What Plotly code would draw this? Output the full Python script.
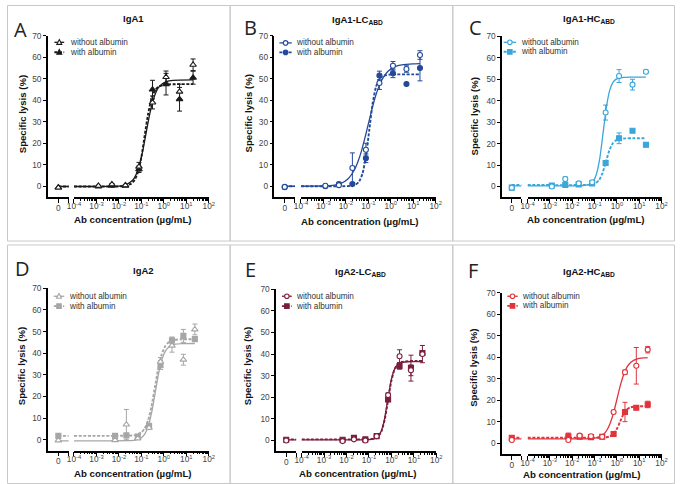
import plotly.graph_objects as go

W, H = 681, 484

# ---------------- data ----------------
LETTERS = ["A", "B", "C", "D", "E", "F"]
TITLES = ["IgA1", "IgA1-LC<sub>ABD</sub>", "IgA1-HC<sub>ABD</sub>",
          "IgA2", "IgA2-LC<sub>ABD</sub>", "IgA2-HC<sub>ABD</sub>"]
SERIES_NAMES = ["without albumin", "with albumin"]
X_TICK_VALS = [1e-4, 1e-3, 1e-2, 1e-1, 1, 10, 100]
X_TICK_TEXT = ["10<sup>-4</sup>", "10<sup>-3</sup>", "10<sup>-2</sup>", "10<sup>-1</sup>",
               "10<sup>0</sup>", "10<sup>1</sup>", "10<sup>2</sup>"]
Y_TICK_VALS = [0, 10, 20, 30, 40, 50, 60, 70]
ZERO_TICK_VALS = [0, 1]
ZERO_TICK_TEXT = ["0", " "]
ZERO_SEG_X = [0, 1]

CONC_1 = [0.00122, 0.00488, 0.0195, 0.078, 0.3125, 1.25, 5, 20]
CONC_2 = [0.0067, 0.0215, 0.069, 0.22, 0.71, 2.3, 7.4, 24]

# Panel A  IgA1
A_WO_ZERO, A_W_ZERO = -0.5, -0.5
A_WO = [0.3, 1.0, 0.6, 9.2, 39.0, 50.8, 44.0, 56.5]
A_WO_ERR = [0.3, 0.4, 0.3, 2.0, 3.0, 2.8, 3.5, 2.7]
A_W = [0.0, 0.3, 0.3, 8.0, 45.0, 47.5, 40.5, 50.5]
A_W_ERR = [0.2, 0.3, 0.3, 1.5, 4.3, 5.0, 5.5, 3.0]
A_WO_FIT_X = [1e-4, 0.0102, 0.0204, 0.0407, 0.0575, 0.0813, 0.115, 0.162, 0.229, 0.324, 0.457, 0.646, 1.29, 2.57, 20]
A_WO_FIT_Y = [0.0, 0.2, 0.8, 2.9, 5.5, 9.9, 16.5, 24.8, 33.0, 39.6, 44.0, 46.6, 48.7, 49.3, 49.5]
A_W_FIT_X = [1e-4, 0.0089, 0.0178, 0.0355, 0.0501, 0.0708, 0.1, 0.141, 0.2, 0.282, 0.398, 0.562, 1.12, 20]
A_W_FIT_Y = [0.0, 0.03, 0.2, 1.3, 3.0, 6.7, 13.7, 23.8, 33.8, 40.8, 44.5, 46.2, 47.3, 47.5]
A_WO_BOTTOM, A_W_BOTTOM = 0.0, 0.0

# Panel B  IgA1-LC_ABD
B_WO_ZERO, B_W_ZERO = -0.3, -0.5
B_WO = [0.2, 0.5, 8.5, 17.0, 48.0, 56.0, 54.5, 61.0]
B_WO_ERR = [0.2, 0.3, 7.0, 3.0, 3.0, 2.0, 1.5, 2.0]
B_W = [0.0, 1.0, 1.0, 13.0, 51.5, 52.5, 47.5, 55.0]
B_W_ERR = [0.2, 0.3, 0.5, 2.0, 2.0, 2.0, 0.5, 6.0]
B_WO_FIT_X = [1e-4, 0.00031, 0.00098, 0.0031, 0.0062, 0.0123, 0.0245, 0.0347, 0.049, 0.0692, 0.0977,
              0.138, 0.195, 0.275, 0.389, 0.776, 1.55, 3.09, 9.77, 20]
B_WO_FIT_Y = [0.0, 0.03, 0.11, 0.57, 1.4, 3.4, 7.8, 11.5, 16.2, 22.1, 28.5,
              34.9, 40.8, 45.5, 49.2, 53.6, 55.6, 56.4, 56.9, 57.0]
B_W_FIT_X = [1e-4, 0.0069, 0.0138, 0.0275, 0.0389, 0.055, 0.0776, 0.11, 0.155, 0.219, 0.309, 0.437, 0.871, 1.74, 20]
B_W_FIT_Y = [0.0, 0.02, 0.1, 0.8, 2.2, 5.8, 13.6, 26.0, 38.4, 46.2, 49.8, 51.2, 51.9, 52.0, 52.0]
B_WO_BOTTOM, B_W_BOTTOM = 0.0, 0.0

# Panel C  IgA1-HC_ABD
C_WO_ZERO, C_W_ZERO = -0.5, -0.5
C_WO = [0.0, 3.5, 1.5, 2.0, 34.5, 51.5, 47.5, 53.5]
C_WO_ERR = [0.3, 1.0, 0.5, 0.5, 3.5, 3.0, 2.5, 0.7]
C_W = [0.5, 0.7, 1.0, 1.5, 11.0, 22.5, 26.0, 19.5]
C_W_ERR = [0.2, 0.3, 0.3, 0.3, 1.0, 2.5, 0.5, 1.0]
C_WO_FIT_X = [1e-4, 0.0155, 0.0309, 0.0617, 0.0871, 0.123, 0.174, 0.245, 0.347, 0.49, 0.692, 0.977, 1.95, 3.89, 20]
C_WO_FIT_Y = [0.3, 0.3, 0.4, 1.1, 2.5, 6.0, 13.6, 25.7, 37.7, 45.3, 48.8, 50.2, 50.9, 51.0, 51.0]
C_W_FIT_X = [1e-4, 0.0204, 0.0407, 0.0813, 0.115, 0.162, 0.229, 0.324, 0.457, 0.646, 0.912, 1.29, 2.57, 5.13, 20]
C_W_FIT_Y = [0.7, 0.7, 0.74, 1.05, 1.64, 3.1, 6.4, 11.6, 16.8, 20.1, 21.6, 22.15, 22.46, 22.5, 22.5]
C_WO_BOTTOM, C_W_BOTTOM = 0.3, 0.7

# Panel D  IgA2
D_WO_ZERO, D_W_ZERO = -0.3, 1.8
D_WO = [-0.2, 7.0, 0.6, 5.5, 36.0, 43.5, 37.0, 51.0]
D_WO_ERR = [0.3, 7.0, 0.5, 0.8, 2.0, 3.0, 2.5, 2.5]
D_W = [1.8, 2.0, 1.5, 6.5, 34.5, 46.0, 48.0, 46.5]
D_W_ERR = [0.3, 0.3, 0.5, 1.0, 2.0, 1.5, 3.0, 0.5]
D_WO_FIT_X = [1e-4, 0.0263, 0.0525, 0.105, 0.148, 0.209, 0.295, 0.417, 0.589, 0.832, 1.175, 1.66, 3.31, 6.61, 24]
D_WO_FIT_Y = [-0.5, -0.44, -0.19, 1.08, 2.97, 6.7, 13.2, 22.0, 30.8, 37.3, 41.0, 42.9, 44.2, 44.44, 44.5]
D_W_FIT_X = [1e-4, 0.0251, 0.0501, 0.1, 0.141, 0.2, 0.282, 0.398, 0.562, 0.794, 1.12, 1.585, 3.16, 6.31, 24]
D_W_FIT_Y = [1.8, 1.86, 2.11, 3.36, 5.24, 8.95, 15.4, 24.15, 32.9, 39.35, 43.06, 44.94, 46.19, 46.44, 46.5]
D_WO_BOTTOM, D_W_BOTTOM = -0.5, 1.8

# Panel E  IgA2-LC_ABD
E_WO_ZERO, E_W_ZERO = 0.0, 0.3
E_WO = [-0.3, 0.5, 0.0, 2.0, 21.0, 39.0, 32.5, 40.0]
E_WO_ERR = [0.3, 0.3, 0.3, 0.5, 1.0, 3.0, 2.5, 4.0]
E_W = [0.3, 1.2, 0.5, 2.0, 19.0, 34.5, 33.5, 40.5]
E_W_ERR = [0.2, 0.5, 0.2, 0.3, 1.0, 1.5, 6.0, 1.0]
E_WO_FIT_X = [1e-4, 0.0427, 0.0851, 0.17, 0.24, 0.339, 0.479, 0.676, 0.955, 1.35, 1.905, 2.69, 5.37, 10.7, 24]
E_WO_FIT_Y = [0.3, 0.3, 0.35, 0.73, 1.57, 3.88, 9.31, 18.4, 27.5, 32.9, 35.2, 36.1, 36.45, 36.5, 36.5]
E_W_FIT_X = [1e-4, 0.0447, 0.0891, 0.178, 0.251, 0.355, 0.501, 0.708, 1.0, 1.41, 2.0, 2.82, 5.62, 11.2, 24]
E_W_FIT_Y = [0.5, 0.5, 0.55, 0.94, 1.77, 4.09, 9.54, 18.65, 27.76, 33.2, 35.5, 36.36, 36.75, 36.8, 36.8]
E_WO_BOTTOM, E_W_BOTTOM = 0.3, 0.5

# Panel F  IgA2-HC_ABD
F_WO_ZERO, F_W_ZERO = 1.5, 2.5
F_WO = [1.5, 3.5, 3.2, 3.0, 14.5, 33.0, 36.0, 43.5]
F_WO_ERR = [0.4, 0.5, 0.4, 0.4, 0.8, 1.0, 8.5, 1.5]
F_W = [3.2, 3.0, 2.8, 3.0, 4.3, 14.5, 16.5, 18.0]
F_W_ERR = [1.5, 0.5, 0.3, 0.5, 0.5, 4.5, 0.8, 1.5]
F_WO_FIT_X = [1e-4, 0.065, 0.13, 0.259, 0.366, 0.516, 0.73, 1.03, 1.455, 2.06, 2.9, 4.1, 8.18, 16.3, 24]
F_WO_FIT_Y = [2.0, 2.15, 2.6, 4.23, 6.23, 9.6, 14.6, 20.9, 27.2, 32.2, 35.57, 37.57, 39.2, 39.65, 39.8]
F_W_FIT_X = [1e-4, 0.0863, 0.172, 0.344, 0.485, 0.686, 0.968, 1.37, 1.93, 2.73, 3.85, 5.44, 10.9, 21.7, 24]
F_W_FIT_Y = [2.5, 2.5, 2.53, 2.74, 3.13, 4.15, 6.35, 9.85, 13.35, 15.55, 16.57, 16.96, 17.17, 17.2, 17.2]
F_WO_BOTTOM, F_W_BOTTOM = 2.0, 2.5

# ---------------- styles / layout (pixels) ----------------
COLORS = ["#1a1a1a", "#234a9a", "#3aa6da", "#a6a6a6", "#7a1e3c", "#e2333b"]
SYMBOLS = [("triangle-up", "triangle-up"), ("circle", "circle"), ("circle", "square"),
           ("triangle-up", "square"), ("circle", "square"), ("circle", "square")]

GEOM = [
    dict(yax=41.7, zend=63.0, l0=68.3, l1=205.7, ytop=31.0, ybot=194.3),
    dict(yax=272.7, zend=293.5, l0=299.7, l1=437.0, ytop=31.0, ybot=194.0),
    dict(yax=504.7, zend=524.5, l0=530.7, l1=667.3, ytop=31.7, ybot=194.3),
    dict(yax=41.7, zend=63.0, l0=68.3, l1=205.7, ytop=286.3, ybot=450.2),
    dict(yax=274.3, zend=295.0, l0=300.3, l1=437.7, ytop=287.3, ybot=450.9),
    dict(yax=504.7, zend=524.5, l0=530.7, l1=667.3, ytop=290.7, ybot=453.6),
]
LEG = [
    dict(x0=48.3, x1=58.3, tx=62.0, y1=37.7, y2=47.7),
    dict(x0=277.7, x1=290.3, tx=292.5, y1=38.3, y2=47.9),
    dict(x0=506.3, x1=519.0, tx=522.3, y1=37.7, y2=47.3),
    dict(x0=47.7, x1=58.3, tx=61.0, y1=294.3, y2=304.3),
    dict(x0=280.3, x1=290.3, tx=292.5, y1=294.3, y2=304.3),
    dict(x0=510.0, x1=520.7, tx=523.3, y1=294.3, y2=304.0),
]
TITLE_POS = [(128.7, 13.5), (357, 15), (593, 14), (138.8, 268.7), (360, 269.3), (593, 269.7)]
LETTER_POS = [(13.7, 25), (247.8, 22.5), (478, 23), (16.3, 266), (248, 267), (475, 268.7)]
XTITLE_POS = [(128, 216.5), (359.5, 218.5), (590, 217), (128.7, 473), (357.8, 473), (586.3, 474)]
YTITLE_POS = [(15.7, 110), (246.3, 110), (476.7, 113), (15, 365.3), (245.3, 365.3), (475.7, 367)]
FRAMES = [(0.5, 0.5, 227.5, 238.5), (227.5, 0.5, 454.5, 238.5), (454.5, 0.5, 680.5, 238.5),
          (0.5, 242.5, 227.5, 483.5), (227.5, 242.5, 454.5, 483.5), (454.5, 242.5, 680.5, 483.5)]

MINOR_VALS = [m * 10.0 ** k for k in range(-4, 2) for m in range(2, 10)]
FONT = "Liberation Sans, Arial, sans-serif"
TICK_FONT = dict(family=FONT, size=8.3, color="#444")

PANELS = [
    (A_WO_ZERO, A_WO, A_WO_ERR, A_WO_FIT_X, A_WO_FIT_Y, A_WO_BOTTOM, A_W_ZERO, A_W, A_W_ERR, A_W_FIT_X, A_W_FIT_Y, A_W_BOTTOM, CONC_1),
    (B_WO_ZERO, B_WO, B_WO_ERR, B_WO_FIT_X, B_WO_FIT_Y, B_WO_BOTTOM, B_W_ZERO, B_W, B_W_ERR, B_W_FIT_X, B_W_FIT_Y, B_W_BOTTOM, CONC_1),
    (C_WO_ZERO, C_WO, C_WO_ERR, C_WO_FIT_X, C_WO_FIT_Y, C_WO_BOTTOM, C_W_ZERO, C_W, C_W_ERR, C_W_FIT_X, C_W_FIT_Y, C_W_BOTTOM, CONC_1),
    (D_WO_ZERO, D_WO, D_WO_ERR, D_WO_FIT_X, D_WO_FIT_Y, D_WO_BOTTOM, D_W_ZERO, D_W, D_W_ERR, D_W_FIT_X, D_W_FIT_Y, D_W_BOTTOM, CONC_2),
    (E_WO_ZERO, E_WO, E_WO_ERR, E_WO_FIT_X, E_WO_FIT_Y, E_WO_BOTTOM, E_W_ZERO, E_W, E_W_ERR, E_W_FIT_X, E_W_FIT_Y, E_W_BOTTOM, CONC_2),
    (F_WO_ZERO, F_WO, F_WO_ERR, F_WO_FIT_X, F_WO_FIT_Y, F_WO_BOTTOM, F_W_ZERO, F_W, F_W_ERR, F_W_FIT_X, F_W_FIT_Y, F_W_BOTTOM, CONC_2),
]

SOLID = dict(width=1.3, dash="solid")
DASHED = dict(width=1.9, dash="3px,1.6px")


def px(x):
    return x / W


def py(y):
    return 1 - y / H


def ax_name(kind, n):
    return kind if n == 1 else f"{kind}{n}"


def ax_ref(kind, n):
    return kind if n == 1 else f"{kind}{n}"


fig = go.Figure()
layout = dict(width=W, height=H, margin=dict(l=0, r=0, t=0, b=0),
              paper_bgcolor="white", plot_bgcolor="white", showlegend=False,
              font=dict(family=FONT))
shapes, annotations = [], []

for i, (g, pdata) in enumerate(zip(GEOM, PANELS)):
    (wo_zero, wo, wo_err, wo_fx, wo_fy, wo_bot,
     w_zero, w, w_err, w_fx, w_fy, w_bot, conc) = pdata
    color = COLORS[i]
    xz, xl, yn = 2 * i + 1, 2 * i + 2, i + 1
    ydom = [py(g["ybot"]), py(g["ytop"])]
    common = dict(showline=True, linecolor="black", linewidth=1.5, ticks="outside",
                  tickcolor="black", tickwidth=1.2, showgrid=False, zeroline=False,
                  tickfont=TICK_FONT, fixedrange=True)
    layout[ax_name("xaxis", xz)] = dict(domain=[px(g["yax"]), px(g["zend"])], range=[-1, 1],
                                        anchor=ax_ref("y", yn), tickmode="array",
                                        tickvals=ZERO_TICK_VALS, ticktext=ZERO_TICK_TEXT,
                                        ticklen=4, ticklabelstandoff=-2, **common)
    layout[ax_name("xaxis", xl)] = dict(domain=[px(g["l0"]), px(g["l1"])], type="log", range=[-4, 2],
                                        anchor=ax_ref("y", yn), tickmode="array",
                                        tickvals=X_TICK_VALS, ticktext=X_TICK_TEXT, ticklen=4,
                                        ticklabelstandoff=-4,
                                        minor=dict(tickmode="array", tickvals=MINOR_VALS, ticks="outside",
                                                   ticklen=2, tickcolor="black", tickwidth=0.8,
                                                   showgrid=False),
                                        **common)
    layout[ax_name("yaxis", yn)] = dict(domain=ydom, range=[-5, 70], anchor=ax_ref("x", xz),
                                        tickmode="array", tickvals=Y_TICK_VALS, ticklen=3, **common)

    xzr, xlr, yr = ax_ref("x", xz), ax_ref("x", xl), ax_ref("y", yn)
    series = [
        (wo_zero, wo, wo_err, wo_fx, wo_fy, wo_bot, SOLID, SYMBOLS[i][0], True),
        (w_zero, w, w_err, w_fx, w_fy, w_bot, DASHED, SYMBOLS[i][1], False),
    ]
    for (zv, vals, errs, fx, fy, bot, lstyle, sym, is_open) in series:
        fig.add_trace(go.Scatter(x=fx, y=fy, mode="lines", xaxis=xlr, yaxis=yr,
                                 line=dict(color=color, shape="spline", smoothing=0.5, **lstyle),
                                 hoverinfo="skip"))
        fig.add_trace(go.Scatter(x=ZERO_SEG_X, y=[bot, bot], mode="lines", xaxis=xzr, yaxis=yr,
                                 line=dict(color=color, **lstyle), hoverinfo="skip"))
    for (zv, vals, errs, fx, fy, bot, lstyle, sym, is_open) in reversed(series):
        size = 5.8 if sym == "triangle-up" else 5.0
        mk = dict(symbol=sym, size=size, color="white" if is_open else color,
                  line=dict(color=color, width=1.1))
        eb = dict(type="data", array=errs, color=color, thickness=1, width=2.5)
        fig.add_trace(go.Scatter(x=conc, y=vals, mode="markers", xaxis=xlr, yaxis=yr,
                                 marker=mk, error_y=eb, cliponaxis=False))
        fig.add_trace(go.Scatter(x=[0], y=[zv], mode="markers", xaxis=xzr, yaxis=yr,
                                 marker=mk, cliponaxis=False))

    lg = LEG[i]
    for row, (yy, lstyle, sym, is_open) in enumerate([(lg["y1"], SOLID, SYMBOLS[i][0], True),
                                                       (lg["y2"], DASHED, SYMBOLS[i][1], False)]):
        shapes.append(dict(type="line", xref="paper", yref="paper", x0=px(lg["x0"]), x1=px(lg["x1"]),
                           y0=py(yy), y1=py(yy), line=dict(color=color, width=lstyle["width"],
                                                           dash=lstyle["dash"])))
        cx = (lg["x0"] + lg["x1"]) / 2
        r = 2.3
        fill = "white" if is_open else color
        mline = dict(color=color, width=1.1)
        if sym == "circle":
            shapes.append(dict(type="circle", xref="paper", yref="paper", x0=px(cx - r), x1=px(cx + r),
                               y0=py(yy + r), y1=py(yy - r), fillcolor=fill, line=mline))
        elif sym == "square":
            shapes.append(dict(type="rect", xref="paper", yref="paper", x0=px(cx - r), x1=px(cx + r),
                               y0=py(yy + r), y1=py(yy - r), fillcolor=fill, line=mline))
        else:
            path = (f"M {px(cx)},{py(yy - r * 1.2)} L {px(cx + r * 1.1)},{py(yy + r * 0.9)} "
                    f"L {px(cx - r * 1.1)},{py(yy + r * 0.9)} Z")
            shapes.append(dict(type="path", xref="paper", yref="paper", path=path,
                               fillcolor=fill, line=mline))
        annotations.append(dict(xref="paper", yref="paper", x=px(lg["tx"]), y=py(yy),
                                xanchor="left", yanchor="middle", showarrow=False,
                                text=SERIES_NAMES[row], font=dict(family=FONT, size=8.2, color="#333")))

    tx, ty = TITLE_POS[i]
    annotations.append(dict(xref="paper", yref="paper", x=px(tx), y=py(ty), xanchor="center",
                            yanchor="middle", showarrow=False, text=f"<b>{TITLES[i]}</b>",
                            font=dict(family=FONT, size=9.5, color="#111")))
    lx, ly = LETTER_POS[i]
    annotations.append(dict(xref="paper", yref="paper", x=px(lx), y=py(ly), xanchor="center",
                            yanchor="middle", showarrow=False, text=LETTERS[i],
                            font=dict(family="Open Sans, sans-serif", size=20, color="#222")))
    ax_, ay_ = XTITLE_POS[i]
    annotations.append(dict(xref="paper", yref="paper", x=px(ax_), y=py(ay_), xanchor="center",
                            yanchor="middle", showarrow=False, text="<b>Ab concentration (\u00b5g/mL)</b>",
                            font=dict(family=FONT, size=9.7, color="#111")))
    bx, by = YTITLE_POS[i]
    annotations.append(dict(xref="paper", yref="paper", x=px(bx), y=py(by), xanchor="center",
                            yanchor="middle", showarrow=False, textangle=-90,
                            text="<b>Specific lysis (%)</b>",
                            font=dict(family=FONT, size=9.6, color="#111")))
    fx0, fy0, fx1, fy1 = FRAMES[i]
    shapes.append(dict(type="rect", xref="paper", yref="paper", x0=px(fx0), x1=px(fx1),
                       y0=py(fy1), y1=py(fy0), line=dict(color="#c8c8c8", width=1), layer="below"))

layout["shapes"] = shapes
layout["annotations"] = annotations
fig.update_layout(**layout)
fig.write_html("out.html", config={"displayModeBar": False},
               post_script="document.body.style.margin='0px';document.body.style.padding='0px';")
